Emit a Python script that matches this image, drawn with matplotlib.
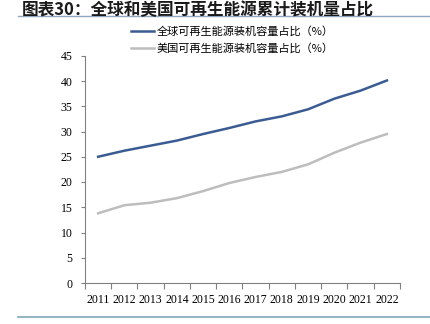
import matplotlib
matplotlib.use("Agg")
import matplotlib.pyplot as plt
import numpy as np

years = ["2011", "2012", "2013", "2014", "2015", "2016", "2017", "2018", "2019", "2020", "2021", "2022"]
global_share = [25.0, 26.2, 27.2, 28.2, 29.5, 30.7, 32.0, 33.0, 34.4, 36.5, 38.1, 40.1]
us_share = [13.8, 15.4, 15.9, 16.8, 18.2, 19.8, 21.0, 22.0, 23.5, 25.8, 27.8, 29.5]
label_global = "全球可再生能源装机容量占比（%）"
label_us = "美国可再生能源装机容量占比（%）"
title = "图表30：全球和美国可再生能源累计装机量占比"

cjk = ["Noto Sans CJK SC", "DejaVu Sans"]
serif = ["Liberation Serif", "DejaVu Serif"]

fig = plt.figure(figsize=(4.31, 3.24), dpi=100)
ax = fig.add_axes([85/431, 1-283/324, 315/431, (283-55.75)/324])

x = np.arange(len(years))
ax.plot(x, global_share, color="#3a5c93", lw=1.8, label=label_global)
ax.plot(x, us_share, color="#bdbdbd", lw=1.8, label=label_us)

ax.set_xlim(-0.5, len(years)-0.5)
ax.set_ylim(0, 45)
ax.set_yticks(np.arange(0, 46, 5))
ax.set_xticks(x)
ax.set_xticklabels(years, fontfamily=serif, fontsize=8.5)
ax.set_xticks(np.arange(-0.5, len(years), 1), minor=True)
ax.tick_params(axis="x", which="major", length=0, pad=8)
ax.tick_params(axis="x", which="minor", length=4, direction="out", color="#808080", width=0.8)
ax.tick_params(axis="y", length=3, direction="out", color="#808080", width=0.8, pad=6)
for lab in ax.get_yticklabels():
    lab.set_fontfamily(serif)
    lab.set_fontsize(8.5)
for s in ["top", "right"]:
    ax.spines[s].set_visible(False)
for s in ["left", "bottom"]:
    ax.spines[s].set_color("#808080")
    ax.spines[s].set_linewidth(0.8)

leg = fig.legend(*ax.get_legend_handles_labels(), loc="upper left",
                 bbox_to_anchor=(131/431, 1-26/324), bbox_transform=fig.transFigure,
                 frameon=False, prop={"family": cjk, "size": 8}, handlelength=2.1,
                 labelspacing=0.62, handletextpad=0.2, borderpad=0, borderaxespad=0)

fig.text(22/431, 1-1/324, title, fontfamily=cjk, fontsize=12, fontweight="bold",
         fontstyle="italic", color="#1a1a1a", va="top", ha="left")
fig.add_artist(plt.Line2D([18/431, 1], [1-16/324, 1-16/324], color="#8fa6bf", lw=1.0))
fig.add_artist(plt.Line2D([18/431, 1], [1-317/324, 1-317/324], color="#7fa7b5", lw=1.2))

fig.savefig("out.png", dpi=100)
